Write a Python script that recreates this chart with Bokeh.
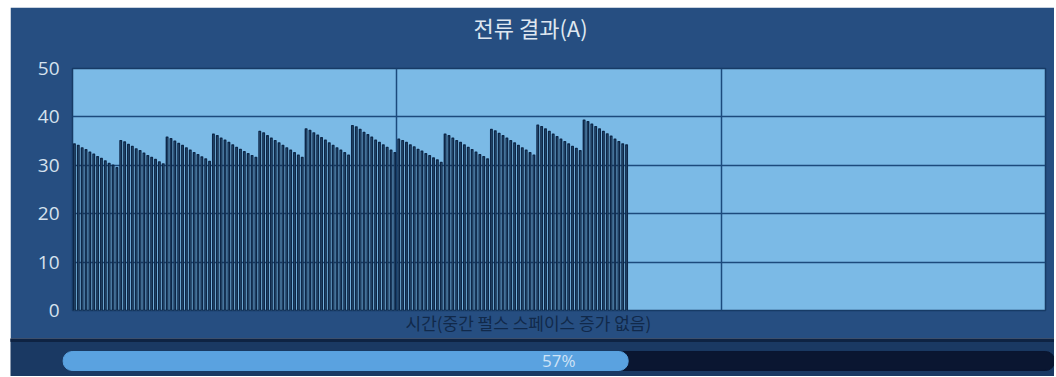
from bokeh.plotting import figure
from bokeh.models import Range1d, FixedTicker, Title, ColumnDataSource, Spacer
from bokeh.layouts import column, row
from bokeh.embed import file_html
from bokeh.resources import INLINE
from bokeh.core.properties import value

# ---- data ----
title_text = "전류 결과(A)"
xlabel_text = "시간(중간 펄스 스페이스 증가 없음)"
y_ticks = [0, 10, 20, 30, 40, 50]
progress_pct = 57

g1 = [34.4, 34.1, 33.6, 33.2, 32.7, 32.3, 31.8, 31.4, 30.9, 30.4, 30.0, 29.5]
g2 = [35.1, 34.8, 34.3, 33.9, 33.4, 33.0, 32.5, 32.0, 31.6, 31.2, 30.7, 30.3]
g3 = [35.8, 35.5, 35.0, 34.5, 34.1, 33.6, 33.1, 32.6, 32.2, 31.7, 31.3, 30.8]
g4 = [36.4, 36.1, 35.6, 35.2, 34.7, 34.2, 33.7, 33.3, 32.8, 32.4, 32.0, 31.6]
g5 = [37.0, 36.7, 36.1, 35.6, 35.1, 34.6, 34.1, 33.6, 33.1, 32.6, 32.1, 31.6]
g6 = [37.5, 37.2, 36.7, 36.2, 35.7, 35.2, 34.6, 34.1, 33.6, 33.1, 32.6, 32.1]
g7 = [38.2, 37.9, 37.4, 36.8, 36.3, 35.8, 35.2, 34.7, 34.2, 33.7, 33.1, 32.6]
g8 = [35.4, 35.1, 34.7, 34.2, 33.8, 33.3, 32.9, 32.4, 32.0, 31.5, 31.1, 30.6]
g9 = [36.4, 36.1, 35.6, 35.1, 34.7, 34.2, 33.7, 33.2, 32.7, 32.2, 31.8, 31.3]
g10 = [37.4, 37.1, 36.6, 36.1, 35.6, 35.1, 34.6, 34.1, 33.6, 33.1, 32.6, 32.1]
g11 = [38.3, 38.0, 37.5, 37.0, 36.4, 35.9, 35.4, 34.9, 34.4, 33.9, 33.5, 33.0]
g12 = [39.3, 39.0, 38.5, 38.0, 37.5, 37.0, 36.5, 36.0, 35.4, 34.9, 34.4, 34.2]
groups = [g1, g2, g3, g4, g5, g6, g7, g8, g9, g10, g11, g12]

total_slots = 252  # full time window (pulse slots)
heights = [v for g in groups for v in g]
pulse_idx = list(range(len(heights)))

PANEL = "#264e81"
DARK_LINE = "#0d2748"
BAND = "#1a3963"

src = ColumnDataSource(dict(x=[i + 0.5 for i in pulse_idx], top=heights))

p = figure(width=1044, height=331, output_backend="svg", toolbar_location=None,
           x_range=Range1d(0, total_slots), y_range=Range1d(0, 50),
           min_border_left=62, min_border_right=9, min_border_top=61, min_border_bottom=28,
           background_fill_color="#7bbae6", border_fill_color=PANEL,
           outline_line_color="#173b66", outline_line_width=1.5)

p.vbar(x="x", top="top", bottom=0, width=0.4, source=src,
       fill_color="#8cc6ee", line_color=DARK_LINE, line_width=1.4,
       line_join="round")

p.xaxis.visible = False
p.yaxis.ticker = FixedTicker(ticks=y_ticks)
p.yaxis.axis_line_color = None
p.yaxis.major_tick_line_color = None
p.yaxis.minor_tick_line_color = None
p.yaxis.major_label_standoff = 7
p.yaxis.major_label_text_font = "Open Sans"
p.yaxis.major_label_text_font_size = "19px"
p.yaxis.major_label_text_color = "#d6e2ee"

p.xgrid.ticker = FixedTicker(ticks=[total_slots / 3, 2 * total_slots / 3])
p.ygrid.ticker = FixedTicker(ticks=y_ticks[1:-1])
for g in (p.xgrid, p.ygrid):
    g.grid_line_color = "#1c4a7c"
    g.grid_line_width = 1.5
    g.grid_line_alpha = 1.0

p.title = Title(text=title_text, align="left", offset=401, standoff=0,
                text_font="Noto Sans CJK KR", text_font_size="22px",
                text_font_style="normal", text_color="#dfe7f0")
# empty spacer panel between the title and the frame
p.add_layout(Title(text=" ", text_font_size="10px", standoff=13,
                   text_color=PANEL), "above")
p.add_layout(Title(text=xlabel_text, align="left", offset=333, standoff=-6,
                   text_font="Noto Sans CJK KR", text_font_size="17px",
                   text_font_style="normal", text_color="#11294a"), "below")

# ---- progress bar (with separator strip on top) ----
q = figure(width=1044, height=38, output_backend="svg", toolbar_location=None,
           x_range=Range1d(-5.3, 100), y_range=Range1d(0, 1),
           min_border_left=0, min_border_right=0, min_border_top=0, min_border_bottom=0,
           background_fill_color=BAND, border_fill_color=BAND,
           outline_line_color=None)
q.axis.visible = False
q.grid.visible = False

q.quad(left=-5.3, right=100, bottom=0.921, top=1.0, color="#0e2343")
try:
    q.hbar(y=0.408, left=0, right=100, height=0.5, color="#0a1631", border_radius=9)
    q.hbar(y=0.408, left=0, right=progress_pct, height=0.5, color="#5aa2e0", border_radius=9)
except Exception:
    q.hbar(y=0.408, left=0, right=100, height=0.5, color="#0a1631")
    q.hbar(y=0.408, left=0, right=progress_pct, height=0.5, color="#5aa2e0")
q.text(x=[50], y=[0.408], text=[f"{progress_pct}%"], text_align="center",
       text_baseline="middle", text_font=value("Open Sans"),
       text_font_size="17px", text_color="#cfe3f6")

layout = column(Spacer(height=7),
                row(Spacer(width=10), column(p, row(q), spacing=0), spacing=0),
                spacing=0)
open("out.html", "w").write(file_html(layout, INLINE))
